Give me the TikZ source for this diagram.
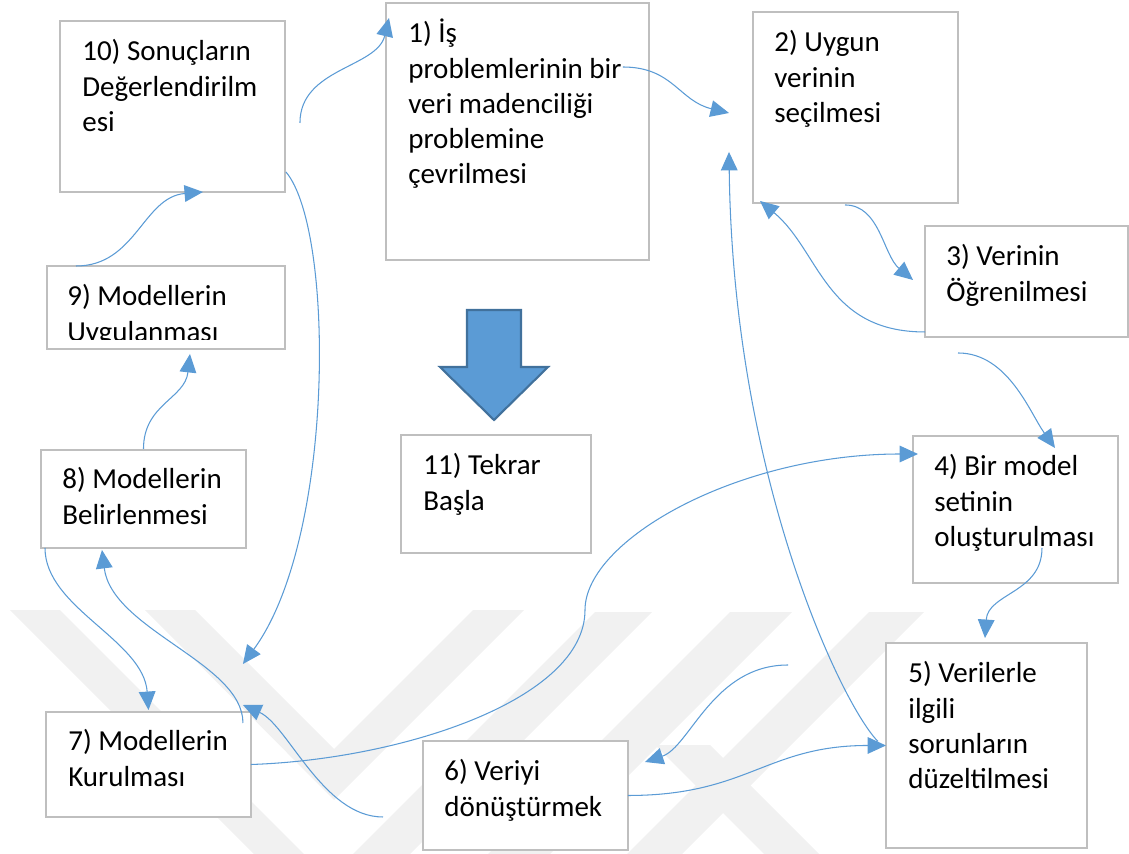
\documentclass[tikz,border=0pt]{standalone}
\usepackage{fontspec}
\setmainfont{Carlito}
\usetikzlibrary{arrows.meta,calc}
\definecolor{okmavi}{RGB}{91,155,213}
\definecolor{okkoyu}{RGB}{65,113,156}
\definecolor{kutugri}{RGB}{191,191,191}
\definecolor{filig}{RGB}{241,241,241}
\newcommand{\kutufont}{\fontsize{16.5}{20}\selectfont}
\begin{document}
\begin{tikzpicture}[x=0.02cm,y=-0.02cm,
  kutu/.style={draw=kutugri,line width=1pt,fill=white,anchor=north west,inner sep=0pt,outer sep=0pt},
  yazi/.style={anchor=north west,inner sep=0pt,align=left,font=\kutufont},
  ok/.style={okmavi,line width=0.6pt,-{Triangle[length=10.5pt,width=9.5pt]}}]
\useasboundingbox (0,0) rectangle (1129,854);
%%% watermark in the background
\fill[filig] (10,610) -- (60,610) -- (304,854) -- (254,854) -- cycle;
\fill[filig] (145,610) -- (195,610) -- (334,749) -- (473,610) -- (524,610) -- (334,800) -- cycle;
\fill[filig] (595,612) -- (652,612) -- (410,854) -- (353,854) -- cycle;
\fill[filig] (730,612) -- (792,612) -- (550,854) -- (488,854) -- cycle;
\fill[filig] (869,612) -- (924,612) -- (682,854) -- (627,854) -- cycle;
\fill[filig] (655,745) -- (710,745) -- (819,854) -- (764,854) -- cycle;
%%% the boxes of the steps
\node[kutu,minimum width=5.26cm,minimum height=5.14cm] (k1) at (386,3) {};
\node[kutu,minimum width=4.10cm,minimum height=3.82cm] (k2) at (753,12) {};
\node[kutu,minimum width=4.06cm,minimum height=2.22cm] (k3) at (925,226) {};
\node[kutu,minimum width=4.10cm,minimum height=2.94cm] (k4) at (913,436) {};
\node[kutu,minimum width=4.02cm,minimum height=4.10cm] (k5) at (886,643) {};
\node[kutu,minimum width=4.10cm,minimum height=2.18cm] (k6) at (423,741) {};
\node[kutu,minimum width=4.10cm,minimum height=2.10cm] (k7) at (46,712) {};
\node[kutu,minimum width=4.10cm,minimum height=1.96cm] (k8) at (41,450) {};
\node[kutu,minimum width=4.76cm,minimum height=1.66cm] (k9) at (47,266) {};
\node[kutu,minimum width=4.50cm,minimum height=3.42cm] (k10) at (60,21) {};
\node[kutu,minimum width=3.80cm,minimum height=2.36cm] (k11) at (401,435) {};
%%% texts
\node[yazi] (y1) at ($(k1.north west)+(22,15)$) {\strut 1) İş\\problemlerinin bir\\veri madenciliği\\problemine\\çevrilmesi};
\node[yazi] (y2) at ($(k2.north west)+(21,15)$) {\strut 2) Uygun\\verinin\\seçilmesi};
\node[yazi] (y3) at ($(k3.north west)+(21,15)$) {\strut 3) Verinin\\Öğrenilmesi};
\node[yazi] (y4) at ($(k4.north west)+(21,15)$) {\strut 4) Bir model\\setinin\\oluşturulması};
\node[yazi] (y5) at ($(k5.north west)+(22,15)$) {\strut 5) Verilerle\\ilgili\\sorunların\\düzeltilmesi};
\node[yazi] (y6) at ($(k6.north west)+(21,15)$) {\strut 6) Veriyi\\dönüştürmek};
\node[yazi] (y7) at ($(k7.north west)+(22,14)$) {\strut 7) Modellerin\\Kurulması};
\node[yazi] (y8) at ($(k8.north west)+(21,14)$) {\strut 8) Modellerin\\Belirlenmesi};
\begin{scope}
\clip (k9.north west) rectangle ($(k9.south east)+(0,-9)$);
\node[yazi] (y9) at ($(k9.north west)+(20,15)$) {\strut 9) Modellerin\\Uygulanması};
\end{scope}
\node[yazi] (y10) at ($(k10.north west)+(22,15)$) {\strut 10) Sonuçların\\Değerlendirilm\\esi};
\node[yazi] (y11) at ($(k11.north west)+(22,15)$) {\strut 11) Tekrar\\Başla};
%%% big arrow over step 11
\draw[okkoyu,line width=1.2pt,fill=okmavi] (467,310) -- (521,310) -- (521,367) -- (548,367)
  -- (494,420) -- (440,367) -- (467,367) -- cycle;
%%% connectors
\coordinate (d74) at (585,610);
\draw[ok] ($(k10.east)+(15,16.5)$) .. controls +(0,-55) and +(-12,50) .. ($(k1.north west)+(3,15)$);
\draw[ok] ($(k1.north east)+(-26,64)$) .. controls +(50,0) and +(-50,-12) .. ($(k2.west)+(-24,5.5)$);
\draw[ok] ($(k5.west)+(-8,-4)$) .. controls +(-35,-35) and +(4,328) .. ($(k2.south west)+(-24,-51)$);
\draw[ok] ($(k2.south)+(-10.5,2)$) .. controls +(35,0) and +(-30,-25) .. ($(k3.west)+(-12,-1.5)$);
\draw[ok] ($(k3.south west)+(0,-5)$) .. controls +(-100,0) and +(60,50) .. ($(k2.south west)+(7,-2)$);
\draw[ok] ($(k3.south west)+(33,16)$) .. controls +(50,0) and +(-25,-35) .. ($(k4.north)+(39.5,12)$);
\draw[ok] (k7.east) .. controls +(150,-5) and +(0,90) .. (d74)
  .. controls +(0,-70) and +(-180,0) .. ($(k4.north west)+(5,18)$);
\draw[ok] ($(k4.south)+(26.5,-35)$) .. controls +(0,45) and +(3,-45) .. ($(k5.north)+(-1.5,-5)$);
\draw[ok] ($(k5.north west)+(-98,22)$) .. controls +(-75,0) and +(45,-15) .. ($(k6.north east)+(17,21)$);
\draw[ok] (k6.east) .. controls +(120,0) and +(-120,0) .. (k5.west);
\draw[ok] ($(k6.west)+(-40,21.5)$) .. controls +(-60,0) and +(45,20) .. ($(k7.north east)+(-8,-7)$);
\draw[ok] ($(k7.north east)+(-8,11)$) .. controls +(0,-60) and +(10,80) .. ($(k8.south)+(-41.5,2)$);
\draw[ok] ($(k8.south west)+(4,0)$) .. controls +(0,60) and +(-5,-70) .. ($(k7.north)+(0,-2)$);
\draw[ok] ($(k10.south east)+(1,-20)$) .. controls +(49,58) and +(92,-125) .. ($(k7.north east)+(-8,-48)$);
\draw[ok] ($(k8.north)+(0,-1)$) .. controls +(0,-45) and +(-5,45) .. ($(k9.south)+(24,5)$);
\draw[ok] ($(k9.north west)+(29,0)$) .. controls +(60,0) and +(-60,5) .. ($(k10.south)+(30.5,0)$);
\end{tikzpicture}
\end{document}
